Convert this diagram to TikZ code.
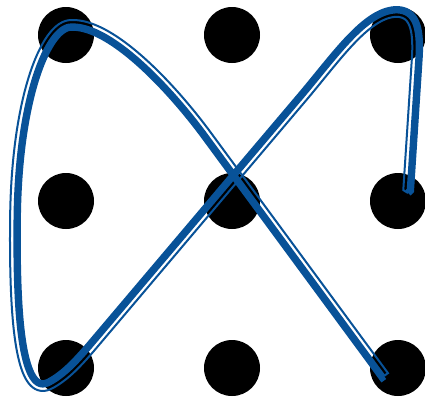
\documentclass[tikz,border=0pt]{standalone}
\usetikzlibrary{decorations.pathmorphing}
\definecolor{lineblue}{RGB}{8,82,152}
\tikzset{
  dot/.style={circle,fill=black,inner sep=0pt,minimum size=56pt},
  thickpart/.style={draw=lineblue,line width=7.4pt,decorate,decoration={curveto,segment length=2pt,transform={yshift=2.2pt}}},
  thinpart/.style={draw=lineblue,line width=2pt,decorate,decoration={curveto,segment length=2pt,transform={yshift=-4.9pt}}}
}
\begin{document}
\begin{tikzpicture}[x=1pt,y=-1pt]
\useasboundingbox (0,0) rectangle (425,400);
\node[dot] (d11) at (66,35) {};
\node[dot] (d12) at (232,35) {};
\node[dot] (d13) at (398,35) {};
\node[dot] (d21) at (66,201) {};
\node[dot] (d22) at (232,201) {};
\node[dot] (d23) at (398,201) {};
\node[dot] (d31) at (66,368) {};
\node[dot] (d32) at (232,368) {};
\node[dot] (d33) at (398,368) {};
\def\myBluePath{(384,376) -- (205,133) .. controls (170,86) and (110,22) .. (70,25) .. controls (45,27) and (16,100) .. (15,220) .. controls (14,320) and (20,400) .. (50,384) .. controls (65,376) and (77,363) .. (90,348) -- (300,100) .. controls (335,59) and (365,14) .. (395,12) .. controls (415,11) and (418,30) .. (417,55) -- (408,193)}
\path[thickpart] \myBluePath;
\path[thinpart] \myBluePath;
\end{tikzpicture}
\end{document}
